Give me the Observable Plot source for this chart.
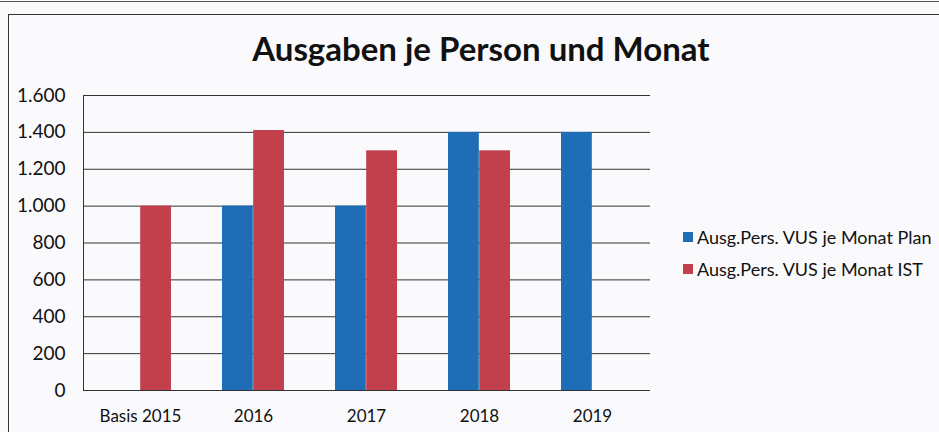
<!DOCTYPE html>
<html>
<head>
<meta charset="utf-8">
<script src="https://cdn.jsdelivr.net/npm/d3@7"></script>
<script src="https://cdn.jsdelivr.net/npm/@observablehq/plot@0.6"></script>
<style>
  html, body { margin: 0; padding: 0; background: #fafafd; }
  body { width: 939px; height: 432px; position: relative; overflow: hidden; font-family: Lato, "Open Sans", sans-serif; }
  #topline { position: absolute; left: 0; top: 1px; width: 939px; height: 0; border-top: 1px solid #555; }
  #frame { position: absolute; left: 8px; top: 14px; width: 940px; height: 430px; border: 1px solid #333; box-sizing: border-box; }
  #title { position: absolute; left: 0; top: 28px; width: 962px; text-align: center; font-size: 33px; font-weight: 700; color: #111; white-space: nowrap; }
  #chart { position: absolute; left: 0; top: 80px; }
  #legend { position: absolute; left: 683px; top: 221px; font-size: 18px; color: #111; white-space: nowrap; }
  .li { display: flex; align-items: center; height: 32px; }
  .sw { width: 10px; height: 10px; margin-right: 4px; }
</style>
</head>
<body>
<div id="topline"></div>
<div id="frame"></div>
<div id="title">Ausgaben je Person und Monat</div>
<div id="chart"></div>
<div id="legend"></div>
<script>
const categories = ["Basis 2015", "2016", "2017", "2018", "2019"];
const seriesNames = ["Ausg.Pers. VUS je Monat Plan", "Ausg.Pers. VUS je Monat IST"];
const planValues = [null, 1000, 1000, 1400, 1400];
const istValues = [1000, 1410, 1300, 1300, null];
const yTicks = [0, 200, 400, 600, 800, 1000, 1200, 1400, 1600];
const colors = ["#1f6db6", "#c2404c"];

const fmt = d => d3.format(",")(d).replace(/,/g, ".");

const width = 939, height = 352;
const marginLeft = 83, marginRight = 289, marginTop = 15, marginBottom = 42;
const padIn = 0.45, padOut = 0.225;
const band = d3.scaleBand().domain(categories).range([marginLeft, width - marginRight])
  .paddingInner(padIn).paddingOuter(padOut).bandwidth();
const half = band / 2;

const plan = categories.map((c, i) => ({cat: c, value: planValues[i]})).filter(d => d.value != null);
const ist = categories.map((c, i) => ({cat: c, value: istValues[i]})).filter(d => d.value != null);

const chart = Plot.plot({
  width, height, marginLeft, marginRight, marginTop, marginBottom,
  style: {background: "transparent", fontFamily: "Lato, 'Open Sans', sans-serif"},
  x: {domain: categories, paddingInner: padIn, paddingOuter: padOut, label: null},
  y: {domain: [0, 1600], ticks: yTicks, label: null},
  marks: [
    Plot.ruleY(yTicks, {stroke: "#333", strokeWidth: 1}),
    Plot.barY(plan, {x: "cat", y: "value", fill: colors[0], insetRight: half}),
    Plot.barY(ist, {x: "cat", y: "value", fill: colors[1], insetLeft: half}),
    Plot.axisY(yTicks, {tickSize: 0, tickPadding: 18, tickFormat: fmt, fontSize: 19, fill: "#111"}),
    Plot.axisX({tickSize: 0, tickPadding: 19, fontSize: 17, fill: "#111"}),
    Plot.frame({anchor: "left", stroke: "#333"})
  ]
});
document.getElementById("chart").appendChild(chart);

const legend = document.getElementById("legend");
seriesNames.forEach((n, i) => {
  const row = document.createElement("div");
  row.className = "li";
  const sw = document.createElement("div");
  sw.className = "sw";
  sw.style.background = colors[i];
  const t = document.createElement("span");
  t.textContent = n;
  row.appendChild(sw); row.appendChild(t);
  legend.appendChild(row);
});
</script>
</body>
</html>
